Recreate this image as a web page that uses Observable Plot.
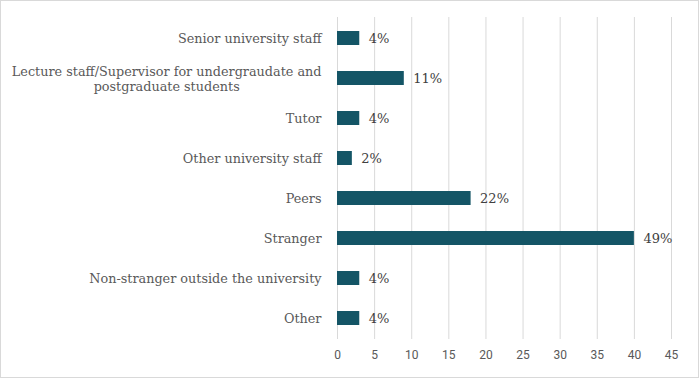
<!DOCTYPE html>
<html>
<head>
<meta charset="utf-8">
<script src="https://cdn.jsdelivr.net/npm/d3@7"></script>
<script src="https://cdn.jsdelivr.net/npm/@observablehq/plot@0.6"></script>
<style>
  html, body { margin: 0; padding: 0; background: #fff; }
  #chart svg { display: block; outline: 1px solid #d9d9d9; outline-offset: -1px; }
</style>
</head>
<body>
<div id="chart"></div>
<script>
const categories = [
  "Senior university staff",
  "Lecture staff/Supervisor for undergraudate and\npostgraduate students",
  "Tutor",
  "Other university staff",
  "Peers",
  "Stranger",
  "Non-stranger outside the university",
  "Other"
];
const counts = [3, 9, 3, 2, 18, 40, 3, 3];
const percentLabels = ["4%", "11%", "4%", "2%", "22%", "49%", "4%", "4%"];
const xTicks = [0, 5, 10, 15, 20, 25, 30, 35, 40, 45];

const data = categories.map((c, i) => ({category: c, count: counts[i], label: percentLabels[i]}));

const serif = "'DejaVu Serif', 'Liberation Serif', serif";

const chart = Plot.plot({
  width: 699,
  height: 378,
  marginLeft: 337,
  marginRight: 28,
  marginTop: 17,
  marginBottom: 39,
  style: {background: "#fff", fontFamily: "Roboto, sans-serif"},
  x: {domain: [0, 45], ticks: xTicks},
  y: {domain: categories, paddingInner: 0.65, paddingOuter: 0.325, axis: null},
  marks: [
    Plot.gridX(xTicks, {stroke: "#d9d9d9", strokeOpacity: 1, strokeWidth: 1}),
    Plot.axisX({ticks: xTicks, tickSize: 0, tickPadding: 11, fontSize: 12, color: "#595959", label: null, tickFormat: d => String(d)}),
    Plot.barX(data, {x: "count", y: "category", fill: "#145566"}),
    Plot.text(data, {x: "count", y: "category", text: "label", textAnchor: "start", dx: 9, fontSize: 13, fill: "#404040", fontFamily: serif}),
    Plot.text(data, {y: "category", text: "category", frameAnchor: "left", textAnchor: "end", dx: -16, fontSize: 12.8, fill: "#595959", fontFamily: serif, lineHeight: 1.2})
  ]
});

document.getElementById("chart").appendChild(chart);

// Center-align wrapped lines of multi-line category labels (as in the original)
chart.querySelectorAll("text").forEach(t => {
  const tspans = t.querySelectorAll("tspan");
  if (tspans.length > 1) {
    const w = t.getBBox().width;
    t.setAttribute("text-anchor", "middle");
    tspans.forEach(s => s.setAttribute("x", -w / 2));
  }
});
</script>
</body>
</html>
